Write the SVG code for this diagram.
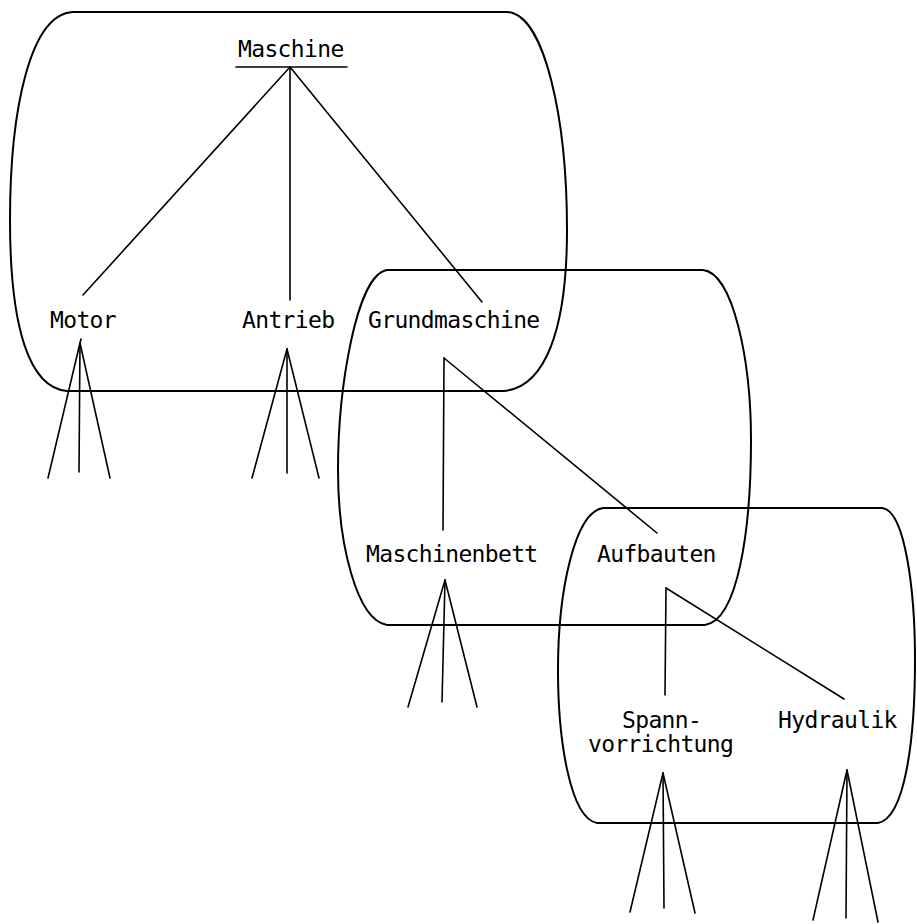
<svg xmlns="http://www.w3.org/2000/svg" width="917" height="924" viewBox="0 0 917 924">
  <style>
    .frame { fill: none; stroke: #000; stroke-width: 2; stroke-linejoin: round; }
    .link { fill: none; stroke: #000; stroke-width: 1.6; stroke-linecap: round; }
    .label { font-family: "DejaVu Sans Mono", "Liberation Mono", monospace; font-size: 23px; letter-spacing: -0.65px; fill: #000; }
  </style>
  <rect width="917" height="924" fill="#fff"/>

  <!-- assembly frames -->
  <g id="frame-maschine">
    <path class="frame" d="M73,12 H507 C545,14 567,120 567,230 C567,330 545,388 503,391 H67 C30,388 10,330 10,220 C10,110 30,14 73,12 Z"/>
  </g>
  <g id="frame-grundmaschine">
    <path class="frame" d="M387,270 H703 C733,273 751,360 751,440 C751,530 738,620 705,625 H387 C357,620 338,545 338,470 C338,390 356,275 387,270 Z"/>
  </g>
  <g id="frame-aufbauten">
    <path class="frame" d="M603,508 H882 C905,510 915,590 915,660 C915,740 905,818 878,823 H597 C570,818 558,740 558,670 C558,590 575,512 603,508 Z"/>
  </g>

  <!-- connectors -->
  <g id="connectors">
    <!-- Maschine -->
    <line class="link" x1="236" y1="67" x2="347" y2="67"/>
    <line class="link" x1="290" y1="67" x2="83" y2="295"/>
    <line class="link" x1="290" y1="67" x2="290" y2="300"/>
    <line class="link" x1="290" y1="67" x2="482" y2="302"/>
    <!-- Motor -->
    <line class="link" x1="81" y1="339" x2="80" y2="343"/>
    <line class="link" x1="80" y1="343" x2="48" y2="478"/>
    <line class="link" x1="80" y1="343" x2="79" y2="472"/>
    <line class="link" x1="80" y1="343" x2="110" y2="478"/>
    <!-- Antrieb -->
    <line class="link" x1="287" y1="349" x2="252" y2="478"/>
    <line class="link" x1="287" y1="349" x2="287" y2="473"/>
    <line class="link" x1="287" y1="349" x2="319" y2="478"/>
    <!-- Grundmaschine -->
    <line class="link" x1="444" y1="358" x2="443" y2="530"/>
    <line class="link" x1="444" y1="358" x2="657" y2="533"/>
    <!-- Maschinenbett -->
    <line class="link" x1="445" y1="580" x2="408" y2="707"/>
    <line class="link" x1="445" y1="580" x2="442" y2="702"/>
    <line class="link" x1="445" y1="580" x2="477" y2="707"/>
    <!-- Aufbauten -->
    <line class="link" x1="666" y1="588" x2="665" y2="695"/>
    <line class="link" x1="666" y1="588" x2="844" y2="699"/>
    <!-- Spannvorrichtung -->
    <line class="link" x1="663" y1="773" x2="630" y2="912"/>
    <line class="link" x1="663" y1="773" x2="664" y2="908"/>
    <line class="link" x1="663" y1="773" x2="695" y2="913"/>
    <!-- Hydraulik -->
    <line class="link" x1="847" y1="770" x2="813" y2="920"/>
    <line class="link" x1="847" y1="770" x2="846" y2="918"/>
    <line class="link" x1="847" y1="770" x2="878" y2="922"/>
  </g>

  <!-- nodes -->
  <g id="node-maschine"><text class="label" x="238" y="57">Maschine</text></g>
  <g id="node-motor"><text class="label" x="50" y="328">Motor</text></g>
  <g id="node-antrieb"><text class="label" x="242" y="328">Antrieb</text></g>
  <g id="node-grundmaschine"><text class="label" x="368" y="328">Grundmaschine</text></g>
  <g id="node-maschinenbett"><text class="label" x="366" y="562">Maschinenbett</text></g>
  <g id="node-aufbauten"><text class="label" x="597" y="562">Aufbauten</text></g>
  <g id="node-spannvorrichtung">
    <text class="label" x="622" y="728">Spann-</text>
    <text class="label" x="588" y="752">vorrichtung</text>
  </g>
  <g id="node-hydraulik"><text class="label" x="778" y="728">Hydraulik</text></g>
</svg>
